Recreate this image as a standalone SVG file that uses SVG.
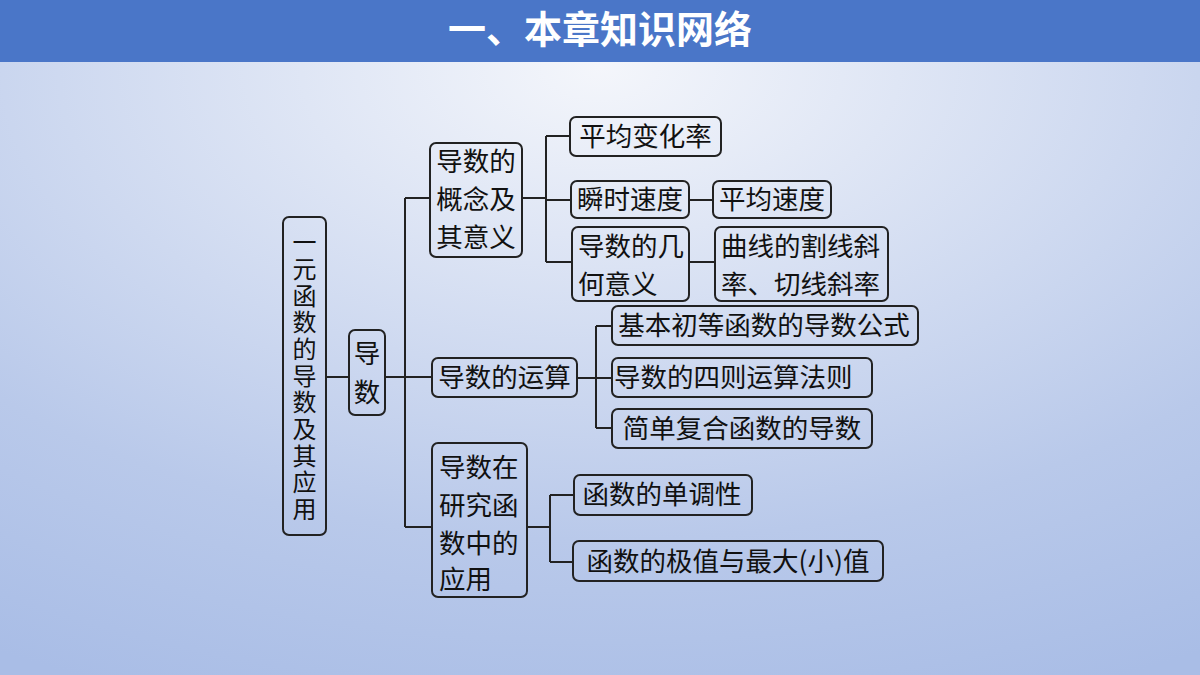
<svg xmlns="http://www.w3.org/2000/svg" width="1200" height="675" viewBox="0 0 1200 675">
<defs>
<radialGradient id="bg" cx="0.5" cy="0.1" r="1">
<stop offset="0" stop-color="#f4f6fb"/>
<stop offset="0.7" stop-color="#b9c9ea"/>
<stop offset="1" stop-color="#a9bde6"/>
</radialGradient>
</defs>
<style>
.n rect{fill:none;stroke:#222;stroke-width:2}
text{font-family:"Noto Sans CJK SC","Noto Sans",sans-serif;font-size:26.5px;fill:#111}
.v{font-size:24px;writing-mode:vertical-rl;text-orientation:upright;letter-spacing:2.7px}
.c{fill:none;stroke:#222;stroke-width:2}
</style>
<rect width="1200" height="675" fill="url(#bg)"/>
<rect width="1200" height="62" fill="#4a76c8"/>
<text x="600" y="43" text-anchor="middle" style="font-size:38px;font-weight:bold;fill:#fff">一、本章知识网络</text>
<g id="connectors" class="c">
<path class="c" d="M326 377H349M385 377H432M405 198V527M405 198H430M405 527H432"/>
<path class="c" d="M522 198H546M546 136V262M546 136H570M546 200H571M546 262H572"/>
<path class="c" d="M689 200H713M689 262H715"/>
<path class="c" d="M577 378H612M596 326V428M596 326H612M596 428H612"/>
<path class="c" d="M527 527H550M550 495V562M550 495H574M550 562H573"/>
</g>
<g id="root" class="n"><rect x="283" y="217" width="43" height="318" rx="6"/>
<text class="v" x="304.5" y="230">一元函数的导数及其应用</text></g>
<g id="daoshu" class="n"><rect x="349" y="330" width="36" height="85" rx="6"/>
<text class="v" x="367" y="340" style="font-size:26.5px;letter-spacing:12px">导数</text></g>
<g id="gainian" class="n"><rect x="430" y="143" width="92" height="114" rx="6"/>
<text text-anchor="middle"><tspan x="476" y="171">导数的</tspan><tspan x="476" y="209">概念及</tspan><tspan x="476" y="247">其意义</tspan></text></g>
<g id="yunsuan" class="n"><rect x="432" y="358" width="145" height="39" rx="6"/>
<text x="504.5" y="387" text-anchor="middle">导数的运算</text></g>
<g id="yingyong" class="n"><rect x="432" y="443" width="95" height="154" rx="6"/>
<text><tspan x="439" y="477">导数在</tspan><tspan x="439" y="515">研究函</tspan><tspan x="439" y="553">数中的</tspan><tspan x="439" y="589">应用</tspan></text></g>
<g id="pjbhl" class="n"><rect x="570" y="117" width="151" height="39" rx="6"/>
<text x="645.5" y="146" text-anchor="middle">平均变化率</text></g>
<g id="sssd" class="n"><rect x="571" y="181" width="118" height="37" rx="6"/>
<text x="630" y="209" text-anchor="middle">瞬时速度</text></g>
<g id="pjsd" class="n"><rect x="713" y="181" width="118" height="37" rx="6"/>
<text x="772" y="209" text-anchor="middle">平均速度</text></g>
<g id="jihe" class="n"><rect x="572" y="227" width="117" height="74" rx="6"/>
<text><tspan x="578" y="256">导数的几</tspan><tspan x="578" y="294">何意义</tspan></text></g>
<g id="xielv" class="n"><rect x="715" y="227" width="173" height="74" rx="6"/>
<text><tspan x="721" y="256">曲线的割线斜</tspan><tspan x="721" y="294">率、切线斜率</tspan></text></g>
<g id="gongshi" class="n"><rect x="612" y="306" width="306" height="39" rx="6"/>
<text x="764" y="335" text-anchor="middle">基本初等函数的导数公式</text></g>
<g id="sizefa" class="n"><rect x="612" y="358" width="260" height="39" rx="6"/>
<text x="614" y="387">导数的四则运算法则</text></g>
<g id="fuhe" class="n"><rect x="612" y="409" width="260" height="39" rx="6"/>
<text x="742" y="438" text-anchor="middle">简单复合函数的导数</text></g>
<g id="dandiao" class="n"><rect x="574" y="475" width="178" height="40" rx="6"/>
<text x="662" y="504" text-anchor="middle">函数的单调性</text></g>
<g id="jizhi" class="n"><rect x="573" y="541" width="310" height="40" rx="6"/>
<text x="728" y="571" text-anchor="middle">函数的极值与最大(小)值</text></g>
</svg>
